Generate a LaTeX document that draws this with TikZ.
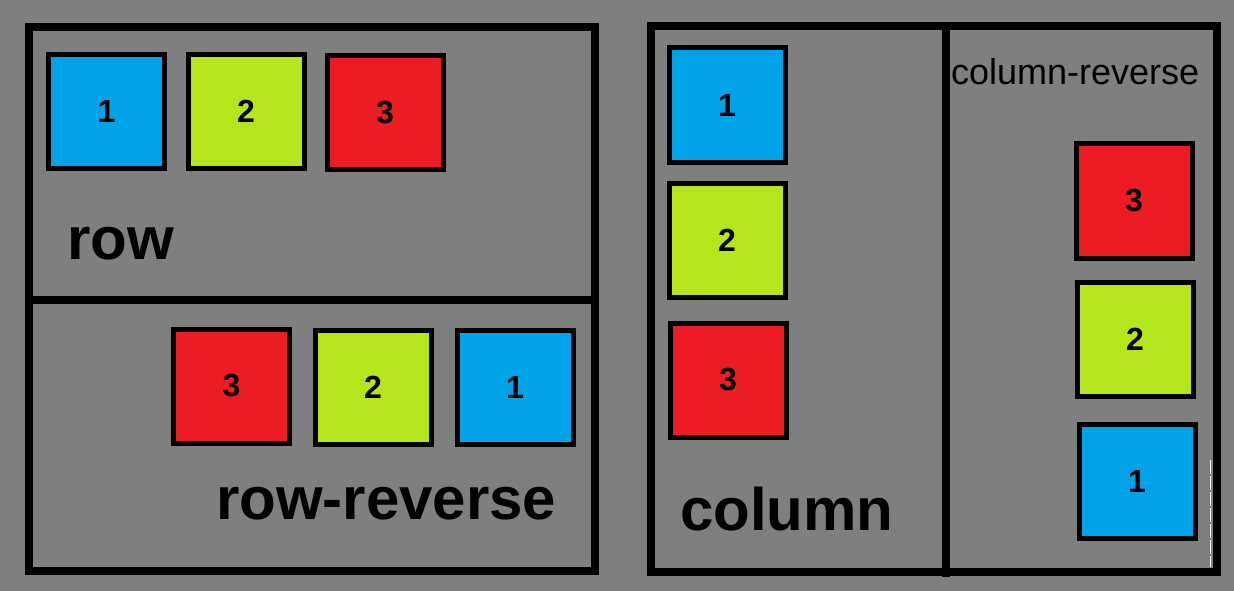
\documentclass[tikz,border=0pt]{standalone}
\usepackage{fontspec}
\setmainfont{Liberation Sans}
\definecolor{bg}{HTML}{7F7F7F}
\definecolor{bblue}{HTML}{00A2E8}
\definecolor{bgreen}{HTML}{B5E61D}
\definecolor{bred}{HTML}{ED1C24}
\tikzset{
  frame/.style={line width=8pt, draw=black},
  box/.style={draw=black, line width=5pt, minimum width=116pt, minimum height=114pt, inner sep=0pt,
    font=\fontsize{32}{32}\selectfont\bfseries},
  bluebox/.style={box, fill=bblue},
  greenbox/.style={box, fill=bgreen},
  redbox/.style={box, fill=bred},
  biglabel/.style={anchor=base west, inner sep=0pt, font=\fontsize{60}{60}\selectfont\bfseries},
  smalllabel/.style={anchor=base west, inner sep=0pt, font=\fontsize{36}{36}\selectfont}
}
\begin{document}
\begin{tikzpicture}[x=1pt,y=-1pt]
\fill[bg] (0,0) rectangle (1234,591);
\useasboundingbox (0,0) rectangle (1234,591);
% frames
\draw[frame] (29,27) rectangle (595,571);
\draw[frame] (29,300) -- (595,300);
\draw[frame] (651,26) rectangle (1217,572);
\draw[frame] (946,26) -- (946,577);
% small white artefact
\draw[white, line width=0.8pt, dash pattern=on 14pt off 2pt] (1210.5,460) -- (1210.5,567);
% row
\node[bluebox]  (r1) at (106.5,111.5) {1};
\node[greenbox] (r2) at (246,111.5) {2};
\node[redbox]   (r3) at (385,112.5) {3};
\node[biglabel] (lrow) at (67,259) {row};
% row-reverse
\node[redbox]   (rr3) at (231.5,386) {3};
\node[greenbox] (rr2) at (373,387) {2};
\node[bluebox]  (rr1) at (515,387) {1};
\node[biglabel] (lrowrev) at (216,519) {row-reverse};
% column
\node[bluebox]  (c1) at (727,105) {1};
\node[greenbox] (c2) at (727,240) {2};
\node[redbox]   (c3) at (728,380) {3};
\node[biglabel] (lcol) at (680,530) {column};
% column-reverse
\node[smalllabel] (lcolrev) at (951,85) {column-reverse};
\node[redbox]   (cr3) at (1134,201) {3};
\node[greenbox] (cr2) at (1135,339) {2};
\node[bluebox]  (cr1) at (1137,481) {1};
\end{tikzpicture}
\end{document}
